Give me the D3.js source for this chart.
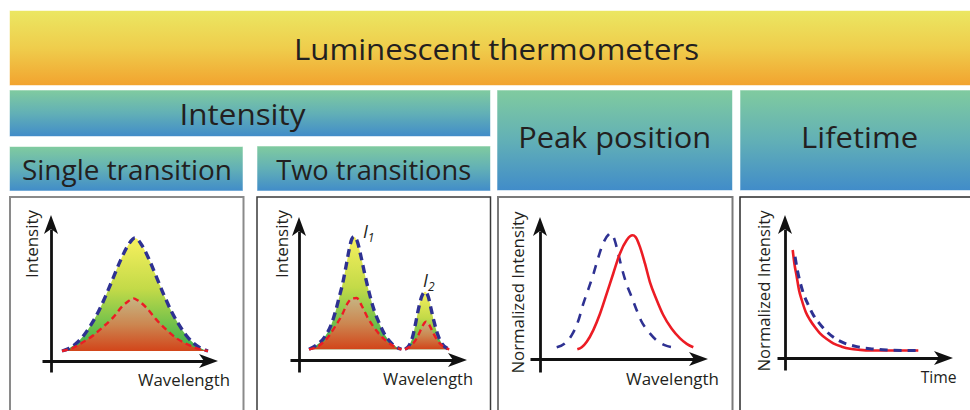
<!DOCTYPE html>
<html>
<head>
<meta charset="utf-8">
<script src="https://cdn.jsdelivr.net/npm/d3@7"></script>
<style>
  html, body { margin: 0; padding: 0; background: #ffffff; }
  svg { display: block; }
  text { font-family: "Open Sans", "Noto Sans", "DejaVu Sans", sans-serif; fill: #231f20; }
</style>
</head>
<body>
<svg id="chart" width="970" height="410"></svg>
<script>
// ---------------- DATA ----------------
const titleText = "Luminescent thermometers";
const groupLabels = ["Intensity", "Peak position", "Lifetime"];
const subLabels = ["Single transition", "Two transitions"];
const yAxisLabels = ["Intensity", "Intensity", "Normalized Intensity", "Normalized Intensity"];
const xAxisLabels = ["Wavelength", "Wavelength", "Wavelength", "Time"];
const peakLabels = ["I", "I"];
const peakSubscripts = ["1", "2"];

// Panel 1: single transition (wavelength 0-100, intensity relative to max)
const p1BlueWavelength = [0, 5, 10, 15, 20, 25, 30, 35, 40, 45, 50, 55, 60, 65, 70, 75, 80, 85, 90, 95, 100];
const p1BlueIntensity  = [0, 0.025, 0.07, 0.14, 0.235, 0.35, 0.49, 0.645, 0.80, 0.93, 1.0, 0.93, 0.80, 0.645, 0.49, 0.35, 0.235, 0.14, 0.07, 0.025, 0];
const p1RedWavelength  = [0, 6.6, 14.6, 21.5, 28.3, 35.2, 40.9, 45.4, 48.9, 52.3, 58, 64.8, 71.7, 78.5, 85.4, 92.3, 100];
const p1RedIntensity   = [0, 0.024, 0.08, 0.14, 0.215, 0.30, 0.39, 0.44, 0.466, 0.445, 0.38, 0.275, 0.186, 0.112, 0.062, 0.024, 0];

// Panel 2: two transitions
const p2Peak1BlueWavelength = [0, 5.4, 11.3, 16.1, 19.1, 21.5, 23.9, 26.2, 28.4, 30.3, 31.9, 34.3, 36.9, 39.7, 42.8, 46.1, 49.9, 53.9, 58.6, 65.5];
const p2Peak1BlueIntensity  = [0, 0.038, 0.112, 0.23, 0.35, 0.467, 0.586, 0.733, 0.88, 0.977, 1.0, 0.956, 0.822, 0.66, 0.497, 0.35, 0.23, 0.127, 0.053, 0];
const p2Peak1RedWavelength  = [0, 7.8, 13.7, 18.4, 23.2, 27.2, 30.3, 33.8, 37.4, 40.9, 45.2, 50.4, 56.3, 63.4, 65.7];
const p2Peak1RedIntensity   = [0, 0.038, 0.112, 0.20, 0.30, 0.405, 0.45, 0.455, 0.387, 0.298, 0.21, 0.127, 0.059, 0.008, 0];
const p2Peak2BlueWavelength = [68.1, 71.2, 73.5, 75.6, 77.5, 79.9, 82.3, 84.6, 86.5, 88.7, 91.0, 94.1, 99.5];
const p2Peak2BlueIntensity  = [0, 0.038, 0.112, 0.23, 0.35, 0.467, 0.51, 0.467, 0.364, 0.245, 0.142, 0.053, 0];
const p2Peak2RedWavelength  = [68.1, 72.8, 76.4, 79.2, 81.6, 83.0, 85.3, 88.2, 91.7, 95.3, 99.5];
const p2Peak2RedIntensity   = [0, 0.038, 0.098, 0.172, 0.23, 0.245, 0.216, 0.142, 0.068, 0.024, 0];

// Panel 3: peak position (normalized)
const p3BlueWavelength = [0, 6, 11, 16, 19.5, 23, 27, 30.5, 34, 38, 39.5, 42.5, 45, 47.5, 51, 55, 58.5, 62, 67, 73, 79, 85];
const p3BlueIntensity  = [0.093, 0.125, 0.19, 0.31, 0.44, 0.55, 0.68, 0.81, 0.92, 0.99, 1.0, 0.944, 0.84, 0.73, 0.60, 0.49, 0.39, 0.30, 0.22, 0.15, 0.11, 0.093];
const p3RedWavelength  = [15.1, 18.3, 22, 26.8, 31.7, 36.6, 41.4, 46.3, 51.2, 53.7, 55.6, 57.8, 61, 64.6, 68.3, 73.2, 78, 84.2, 90.3, 95.2, 100];
const p3RedIntensity   = [0.077, 0.093, 0.137, 0.23, 0.36, 0.52, 0.68, 0.84, 0.944, 0.976, 0.984, 0.97, 0.89, 0.76, 0.61, 0.47, 0.35, 0.24, 0.164, 0.12, 0.093];

// Panel 4: lifetime (normalized decay)
const p4RedTime       = [0, 1.3, 3.2, 5.0, 7.2, 10.3, 13.8, 17.8, 21.7, 27.1, 32.3, 39.0, 45.6, 53.6, 61.5, 72.1, 82.8, 93.4, 100];
const p4RedIntensity  = [1.0, 0.877, 0.753, 0.63, 0.537, 0.429, 0.352, 0.284, 0.228, 0.176, 0.136, 0.105, 0.085, 0.075, 0.07, 0.07, 0.07, 0.07, 0.07];
const p4BlueTime      = [1.9, 3.7, 5.8, 8.5, 12.4, 16.4, 21.2, 27.1, 33.7, 41.6, 51.0, 61.5, 74.8, 88.1, 100];
const p4BlueIntensity = [0.938, 0.815, 0.707, 0.599, 0.491, 0.398, 0.321, 0.244, 0.182, 0.136, 0.105, 0.086, 0.074, 0.07, 0.07];

// ---------------- LAYOUT / STYLE ----------------
const BLUE = "#2e3192", RED = "#ec1c24", INK = "#111111";

const bands = {
  title:  { x: 9.5, y: 10.5, w: 970, h: 75,  text: titleText, tx: 496.5, ty: 60,  fs: 30, tl: 405 },
  groups: [
    { x: 9.5, y: 90, w: 481, h: 46.5,  text: groupLabels[0], tx: 242.5, ty: 125, fs: 29, tl: 126 },
    { x: 497, y: 90, w: 235.5, h: 100.5, text: groupLabels[1], tx: 614.7, ty: 148, fs: 29, tl: 193 },
    { x: 740, y: 90, w: 240, h: 100.5, text: groupLabels[2], tx: 859.6, ty: 148, fs: 29, tl: 117 }
  ],
  subs: [
    { x: 9.5, y: 146.5, w: 233.5, h: 44.5, text: subLabels[0], tx: 127, ty: 180, fs: 27, tl: 210 },
    { x: 257, y: 146, w: 233.5, h: 45,   text: subLabels[1], tx: 373.7, ty: 180, fs: 27, tl: 195 }
  ]
};

const panels = [
  { box: [10, 197, 233.5, 240], stroke: "#8a8a8a", sw: 2,
    yAxisX: 51, xAxisY: 361, xFrom: 42, xTo: 218, yFrom: 372, yTo: 215,
    xr: [62, 208], yr: [351, 238],
    yl: { x: 38, y: 244, tl: 68 }, xl: { x: 184, y: 386, tl: 92 } },
  { box: [257, 197, 233.5, 240], stroke: "#3a3a3a", sw: 1.5,
    yAxisX: 299, xAxisY: 360, xFrom: 290, xTo: 467, yFrom: 372, yTo: 217,
    xr: [309, 450], yr: [349.3, 236.7],
    yl: { x: 288, y: 244, tl: 68 }, xl: { x: 428, y: 385, tl: 90 } },
  { box: [498, 197, 234.5, 240], stroke: "#7a7a7a", sw: 2,
    yAxisX: 540, xAxisY: 359, xFrom: 530, xTo: 708, yFrom: 372, yTo: 217,
    xr: [556.7, 693.3], yr: [359, 233.3],
    yl: { x: 524, y: 292.5, tl: 162 }, xl: { x: 672.5, y: 385, tl: 93 } },
  { box: [740, 197, 250, 240], stroke: "#2a2a2a", sw: 1.5,
    yAxisX: 785, xAxisY: 358, xFrom: 777, xTo: 953, yFrom: 370, yTo: 215,
    xr: [792.7, 918.3], yr: [358, 250],
    yl: { x: 770, y: 291, tl: 161 }, xl: { x: 938.7, y: 383, tl: 36 } }
];

// ---------------- DRAW ----------------
const svg = d3.select("#chart");
const defs = svg.append("defs");
function vGrad(id, stops) {
  const g = defs.append("linearGradient").attr("id", id)
    .attr("x1", 0).attr("y1", 0).attr("x2", 0).attr("y2", 1);
  stops.forEach(([o, c]) => g.append("stop").attr("offset", o).attr("stop-color", c));
}
vGrad("gTop",   [[0, "#ebe762"], [0.5, "#efcd4c"], [1, "#f2a32f"]]);
vGrad("gBand",  [[0, "#80cb9f"], [0.5, "#62b0b6"], [1, "#418cc9"]]);
vGrad("gOuter", [[0, "#f7f05e"], [0.45, "#c3da48"], [1, "#35ae4d"]]);
vGrad("gInner", [[0, "#c6b482"], [0.5, "#cc8650"], [1, "#d2451a"]]);

function bandRect(b, grad) {
  svg.append("rect").attr("x", b.x).attr("y", b.y).attr("width", b.w).attr("height", b.h)
    .attr("fill", `url(#${grad})`).attr("stroke", "rgba(255,255,255,0.55)").attr("stroke-width", 1);
  svg.append("text").attr("x", b.tx).attr("y", b.ty).attr("text-anchor", "middle")
    .attr("font-size", b.fs).attr("textLength", b.tl).attr("lengthAdjust", "spacingAndGlyphs")
    .text(b.text);
}
bandRect(bands.title, "gTop");
bands.groups.forEach(b => bandRect(b, "gBand"));
bands.subs.forEach(b => bandRect(b, "gBand"));

const scales = panels.map(p => ({
  x: d3.scaleLinear().domain([0, 100]).range(p.xr),
  y: d3.scaleLinear().domain([0, 1]).range(p.yr)
}));

panels.forEach(p => {
  svg.append("rect").attr("x", p.box[0]).attr("y", p.box[1]).attr("width", p.box[2]).attr("height", p.box[3])
    .attr("fill", "#ffffff").attr("stroke", p.stroke).attr("stroke-width", p.sw);
});

function series(xs, ys) { return xs.map((x, i) => ({ x, y: ys[i] })); }

function drawArea(g, s, data, fillId) {
  const area = d3.area().curve(d3.curveMonotoneX)
    .x(d => s.x(d.x)).y0(s.y(0)).y1(d => s.y(d.y));
  g.append("path").datum(data).attr("d", area).attr("fill", `url(#${fillId})`);
}
function drawLine(g, s, data, color, width, dash) {
  const line = d3.line().curve(d3.curveMonotoneX).x(d => s.x(d.x)).y(d => s.y(d.y));
  g.append("path").datum(data).attr("d", line).attr("fill", "none")
    .attr("stroke", color).attr("stroke-width", width)
    .attr("stroke-dasharray", dash || null).attr("stroke-linejoin", "round");
}

const plot = panels.map(() => svg.append("g"));

// Panel 1
{
  const s = scales[0], g = plot[0];
  const blue = series(p1BlueWavelength, p1BlueIntensity), red = series(p1RedWavelength, p1RedIntensity);
  drawArea(g, s, blue, "gOuter");
  drawArea(g, s, red, "gInner");
  drawLine(g, s, blue, BLUE, 3.4, "8,5");
  drawLine(g, s, red, RED, 2.4, "6,4");
}
// Panel 2
{
  const s = scales[1], g = plot[1];
  const b1 = series(p2Peak1BlueWavelength, p2Peak1BlueIntensity), r1 = series(p2Peak1RedWavelength, p2Peak1RedIntensity);
  const b2 = series(p2Peak2BlueWavelength, p2Peak2BlueIntensity), r2 = series(p2Peak2RedWavelength, p2Peak2RedIntensity);
  [[b1, r1], [b2, r2]].forEach(([b, r]) => {
    drawArea(g, s, b, "gOuter");
    drawArea(g, s, r, "gInner");
    drawLine(g, s, b, BLUE, 3.4, "8,5");
    drawLine(g, s, r, RED, 2.4, "6,4");
  });
  const peaks = [
    { x: p2Peak1BlueWavelength[d3.maxIndex(p2Peak1BlueIntensity)], y: d3.max(p2Peak1BlueIntensity), dx: 9, dy: 1 },
    { x: p2Peak2BlueWavelength[d3.maxIndex(p2Peak2BlueIntensity)], y: d3.max(p2Peak2BlueIntensity), dx: -2, dy: -5 }
  ];
  peaks.forEach((pk, i) => {
    const t = g.append("text").attr("x", s.x(pk.x) + pk.dx).attr("y", s.y(pk.y) + pk.dy)
      .attr("font-size", 18).attr("font-style", "italic");
    t.append("tspan").text(peakLabels[i]);
    t.append("tspan").attr("dy", 4).attr("font-size", 12).text(peakSubscripts[i]);
  });
}
// Panel 3
{
  const s = scales[2], g = plot[2];
  drawLine(g, s, series(p3BlueWavelength, p3BlueIntensity), BLUE, 2.6, "9,8");
  drawLine(g, s, series(p3RedWavelength, p3RedIntensity), RED, 2.6, null);
}
// Panel 4
{
  const s = scales[3], g = plot[3];
  drawLine(g, s, series(p4RedTime, p4RedIntensity), RED, 2.6, null);
  drawLine(g, s, series(p4BlueTime, p4BlueIntensity), BLUE, 3, "8,6");
}

// axes (arrows) + labels
panels.forEach((p, i) => {
  const g = svg.append("g");
  const AL = 19, AW = 7, AN = 14;
  const xa = d3.scaleLinear().domain([0, 1]).range([p.xFrom, p.xTo - AN]);
  g.append("g").attr("transform", `translate(0,${p.xAxisY})`)
    .call(d3.axisBottom(xa).ticks(0).tickSizeOuter(0))
    .call(a => a.select(".domain").attr("stroke", INK).attr("stroke-width", 2.8));
  const ya = d3.scaleLinear().domain([0, 1]).range([p.yFrom, p.yTo + AN]);
  g.append("g").attr("transform", `translate(${p.yAxisX},0)`)
    .call(d3.axisLeft(ya).ticks(0).tickSizeOuter(0))
    .call(a => a.select(".domain").attr("stroke", INK).attr("stroke-width", 2.8));
  const tx = p.xTo, ty = p.xAxisY;
  g.append("path").attr("d", `M${tx},${ty} L${tx - AL},${ty - AW} L${tx - AN},${ty} L${tx - AL},${ty + AW} Z`).attr("fill", INK);
  const ux = p.yAxisX, uy = p.yTo;
  g.append("path").attr("d", `M${ux},${uy} L${ux - AW},${uy + AL} L${ux},${uy + AN} L${ux + AW},${uy + AL} Z`).attr("fill", INK);
  g.append("text").attr("transform", `translate(${p.yl.x},${p.yl.y}) rotate(-90)`)
    .attr("text-anchor", "middle").attr("font-size", 16)
    .attr("textLength", p.yl.tl).attr("lengthAdjust", "spacingAndGlyphs").text(yAxisLabels[i]);
  g.append("text").attr("x", p.xl.x).attr("y", p.xl.y).attr("text-anchor", "middle").attr("font-size", 17)
    .attr("textLength", p.xl.tl).attr("lengthAdjust", "spacingAndGlyphs").text(xAxisLabels[i]);
});
</script>
</body>
</html>
